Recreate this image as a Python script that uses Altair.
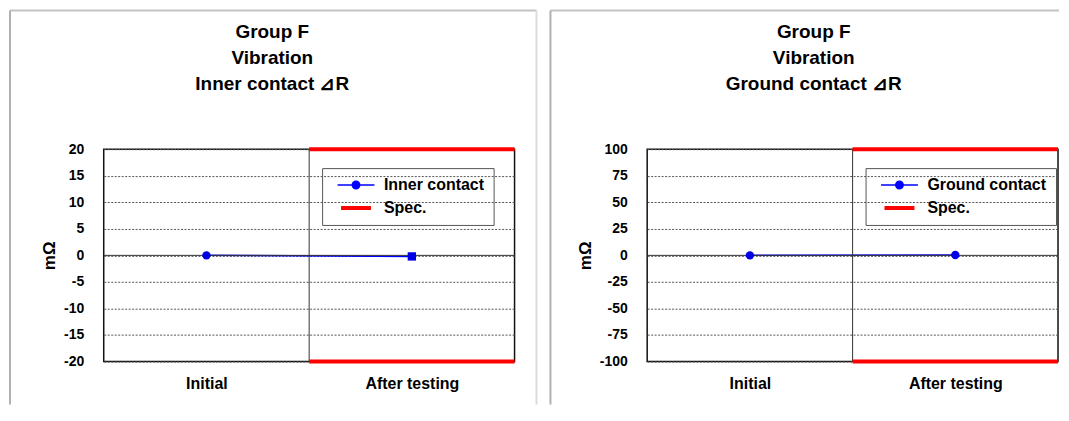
import json
import altair as alt
import pandas as pd

# ---------------- data ----------------
CATEGORIES = ["Initial", "After testing"]
SPEC_LABEL = "Spec."
Y_TITLE = "mΩ"

TITLE_LEFT = ["Group F", "Vibration", "Inner contact ⊿R"]
SERIES_LEFT = "Inner contact"
VALUES_LEFT = [0.0, -0.2]
SPEC_LEFT = [-20, 20]
TICKS_LEFT = [-20, -15, -10, -5, 0, 5, 10, 15, 20]

TITLE_RIGHT = ["Group F", "Vibration", "Ground contact ⊿R"]
SERIES_RIGHT = "Ground contact"
VALUES_RIGHT = [0.0, 0.3]
SPEC_RIGHT = [-100, 100]
TICKS_RIGHT = [-100, -75, -50, -25, 0, 25, 50, 75, 100]

# ---------------- style ----------------
FONT = "Liberation Sans Narrow, Liberation Sans, Arial, sans-serif"
BLUE = "#0000ff"
RED = "#ff0000"
MARKERS_LEFT = ["circle", "square"]
MARKERS_RIGHT = ["circle", "circle"]
# legend symbols (filled paths): line with a dot, thick line
PATH_SERIES = ("M-3.7,-0.15H-0.8V0.15H-3.7Z M0.8,-0.15H3.7V0.15H0.8Z "
               "M0.9,0A0.9,0.9,0,1,1,-0.9,0A0.9,0.9,0,1,1,0.9,0Z")
PATH_SPEC = "M-3.0,-0.4H3.0V0.4H-3.0Z"

W, H = 412, 213


def panel(title, series, values, spec, ticks, markers, frame_left, frame_right,
          title_x, right_edge):
    n = len(CATEGORIES)
    df = pd.DataFrame({
        "category": CATEGORIES,
        "value": values,
        "name": [series] * n,
        "marker": markers,
    })
    df["pos"] = [i + 0.5 for i in range(n)]
    spec_df = pd.DataFrame({"limit": spec})
    one = pd.DataFrame({"k": [0]})

    label_expr = json.dumps(CATEGORIES) + "[floor(datum.value)]"

    x_scale = alt.Scale(domain=[0, n], nice=False, zero=False)
    y_scale = alt.Scale(domain=spec, nice=False, zero=False)
    x_axis = alt.Axis(values=[i + 0.5 for i in range(n)], labelExpr=label_expr,
                      grid=False, ticks=False, tickSize=0, domain=False,
                      labelPadding=14, labelFontSize=16, labelFont=FONT,
                      labelFontWeight="bold", labelColor="black", title=None,
                      labelFlush=False, labelOverlap=False)
    y_axis = alt.Axis(values=ticks, labelExpr="'' + datum.value",
                      grid=True, gridDash=[2, 1.5], gridColor="#555",
                      gridWidth=1, ticks=False, tickSize=0, domain=False,
                      labelPadding=20, labelFontSize=14, labelFont=FONT,
                      labelFontWeight="bold", labelColor="black", labelOverlap=False,
                      title=Y_TITLE, titleFontSize=17, titleFont=FONT,
                      titleFontWeight="bold", titleColor="black", titlePadding=5)

    x_enc = alt.X("pos:Q", scale=x_scale, axis=x_axis)
    y_enc = alt.Y("value:Q", scale=y_scale, axis=y_axis)

    base = alt.Chart(df)

    line = base.mark_line(color=BLUE, strokeWidth=1.5).encode(x=x_enc, y=y_enc)

    zero = alt.Chart(one).mark_rule(color="#333", strokeWidth=1).encode(
        y=alt.YDatum(0, axis=y_axis, scale=y_scale))
    divider = alt.Chart(one).mark_rule(color="#333", strokeWidth=1).encode(
        x=alt.XDatum(1, axis=x_axis, scale=x_scale))

    spec_rules = alt.Chart(spec_df).mark_rule(color=RED, strokeWidth=4, strokeCap="butt").encode(
        x=alt.XDatum(1, axis=x_axis, scale=x_scale), x2=alt.X2Datum(n),
        y=alt.Y("limit:Q", axis=y_axis, scale=y_scale)
    )

    point_layers = []
    for m in sorted(set(markers)):
        point_layers.append(
            base.transform_filter(alt.datum.marker == m).mark_point(
                filled=True, size=70, opacity=1, color="#0000e6", shape=m
            ).encode(x=x_enc, y=y_enc)
        )

    legend = alt.Legend(
        title=None, orient="none", legendX=219, legendY=19,
        strokeColor="#555", padding=9, symbolSize=100, symbolStrokeWidth=0,
        symbolOpacity=1, symbolOffset=17, labelOffset=20, rowPadding=7,
        labelFontSize=16, labelFont=FONT, labelFontWeight="bold",
        labelColor="black", labelLimit=400,
    )
    leg_layer = base.mark_point(filled=True, size=100, opacity=0).encode(
        x=x_enc, y=y_enc,
        color=alt.Color("name:N", scale=alt.Scale(domain=[series, SPEC_LABEL], range=[BLUE, RED]),
                        legend=legend),
        shape=alt.Shape("name:N", scale=alt.Scale(domain=[series, SPEC_LABEL],
                                                  range=[PATH_SERIES, PATH_SPEC]),
                        legend=legend),
    )

    title_text = alt.Chart(one).mark_text(
        fontSize=19, fontWeight="bold", font=FONT, lineHeight=26, align="center",
        baseline="alphabetic", color="black"
    ).encode(x=alt.value(title_x), y=alt.value(-111), text=alt.value(title))

    top_y = -139
    bottom_y = 256
    frame_layers = [
        alt.Chart(one).mark_rule(color="#c4c4c4", strokeWidth=2).encode(
            x=alt.value(frame_left), x2=alt.value(frame_right), y=alt.value(top_y)),
        alt.Chart(one).mark_rule(color="#b0b0b0", strokeWidth=2).encode(
            x=alt.value(frame_left), y=alt.value(top_y), y2=alt.value(bottom_y)),
    ]
    if right_edge:
        frame_layers.append(alt.Chart(one).mark_rule(color="#dcdcdc", strokeWidth=2).encode(
            x=alt.value(frame_right), y=alt.value(top_y), y2=alt.value(bottom_y)))

    chart = alt.layer(
        line, *frame_layers, zero, divider, spec_rules, *point_layers, leg_layer, title_text
    ).properties(width=W, height=H)
    return chart


left = panel(TITLE_LEFT, SERIES_LEFT, VALUES_LEFT, SPEC_LEFT, TICKS_LEFT, MARKERS_LEFT,
             -94, 434, 169, True)
right = panel(TITLE_RIGHT, SERIES_RIGHT, VALUES_RIGHT, SPEC_RIGHT, TICKS_RIGHT, MARKERS_RIGHT,
              -97, 413, 167, False)

chart = alt.hconcat(left, right, spacing=10).properties(
    padding=0, background="white"
).configure_view(
    stroke="#111", strokeWidth=1.5
).resolve_scale(color="independent", shape="independent")

chart.save("out.html", embed_options={"renderer": "svg", "actions": False})
